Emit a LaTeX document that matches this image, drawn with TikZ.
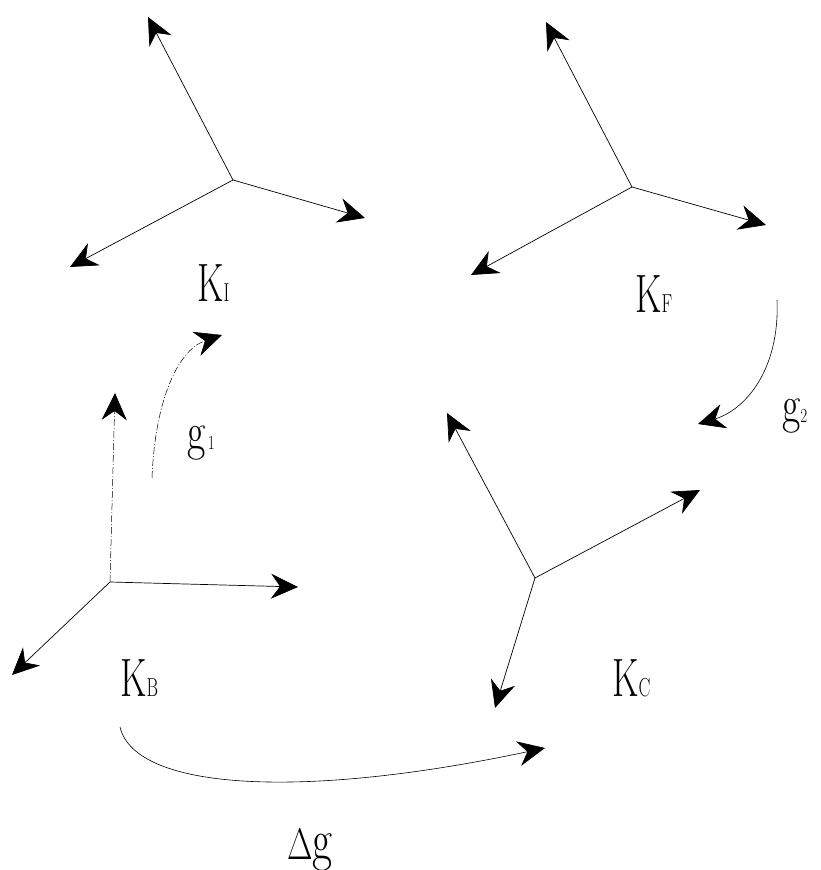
\documentclass[tikz,border=0pt]{standalone}
\usepackage{tikz}
\usetikzlibrary{arrows.meta,positioning}
\newcommand{\frlab}[1]{\scalebox{0.68}[1]{\fontsize{54}{54}\selectfont K{\fontsize{26}{26}\selectfont #1}}}

\begin{document}
\begin{tikzpicture}[
  x=1pt, y=1pt,
  axis/.style={line width=0.7pt, -{Stealth[length=27pt, width=25pt, inset=9pt]}},
  faint axis/.style={axis, line width=0.5pt, dash pattern=on 7pt off 2pt on 1pt off 2pt},
  turn/.style={axis, line width=0.6pt},
  frame label/.style={anchor=base west, inner sep=0pt}
]
  \useasboundingbox (0,0) rectangle (821,870);
  \coordinate (oI) at (233,690);
  \coordinate (oF) at (632,683);
  \coordinate (oB) at (110,288);
  \coordinate (oC) at (535,292);
  \coordinate (I1) at (148,853);
  \coordinate (I2) at (365,652);
  \coordinate (I3) at (70,603);
  \coordinate (F1) at (546,848);
  \coordinate (F2) at (766,645);
  \coordinate (F3) at (471,595);
  \coordinate (B1) at (115,477);
  \coordinate (B2) at (298,283);
  \coordinate (B3) at (12,195);
  \coordinate (C1) at (447,457);
  \coordinate (C2) at (700,380);
  \coordinate (C3) at (495,162);
  \coordinate (g1s) at (152,392);
  \coordinate (g1e) at (222,535);
  \coordinate (g2s) at (777,570);
  \coordinate (g2e) at (698,446);
  \coordinate (dgs) at (120,143);
  \coordinate (dge) at (545,122);
  \node[frame label] (KI) at (197,568) {\frlab{I}};
  \node[frame label] (KF) at (635,557) {\frlab{F}};
  \node[frame label] (KB) at (120,173) {\frlab{B}};
  \node[frame label] (KC) at (612,173) {\frlab{C}};
  \node[frame label] (g1) at (187,420) {\scalebox{0.75}[1]{\fontsize{53}{53}\selectfont g{\fontsize{20}{20}\selectfont\,1}}};
  \node[frame label] (g2) at (782,447) {\scalebox{0.75}[1]{\fontsize{53}{53}\selectfont g{\fontsize{20}{20}\selectfont 2}}};
  \node[frame label] (dg) at (287,10) {\scalebox{0.75}[1]{\fontsize{44}{44}\selectfont Δ\fontsize{58}{58}\selectfont g}};
  \draw[axis] (oI) -- (I1);
  \draw[axis] (oI) -- (I2);
  \draw[axis] (oI) -- (I3);
  \draw[axis] (oF) -- (F1);
  \draw[axis] (oF) -- (F2);
  \draw[axis] (oF) -- (F3);
  \draw[faint axis] (oB) -- (B1);
  \draw[axis] (oB) -- (B2);
  \draw[axis] (oB) -- (B3);
  \draw[axis] (oC) -- (C1);
  \draw[axis] (oC) -- (C2);
  \draw[axis] (oC) -- (C3);
  \draw[faint axis] (g1s) .. controls (155,470) and (178,520) .. (g1e);
  \draw[turn] (g2s) .. controls (780,500) and (745,460) .. (g2e);
  \draw[turn] (dgs) .. controls (135,80) and (300,70) .. (dge);
\end{tikzpicture}
\end{document}
